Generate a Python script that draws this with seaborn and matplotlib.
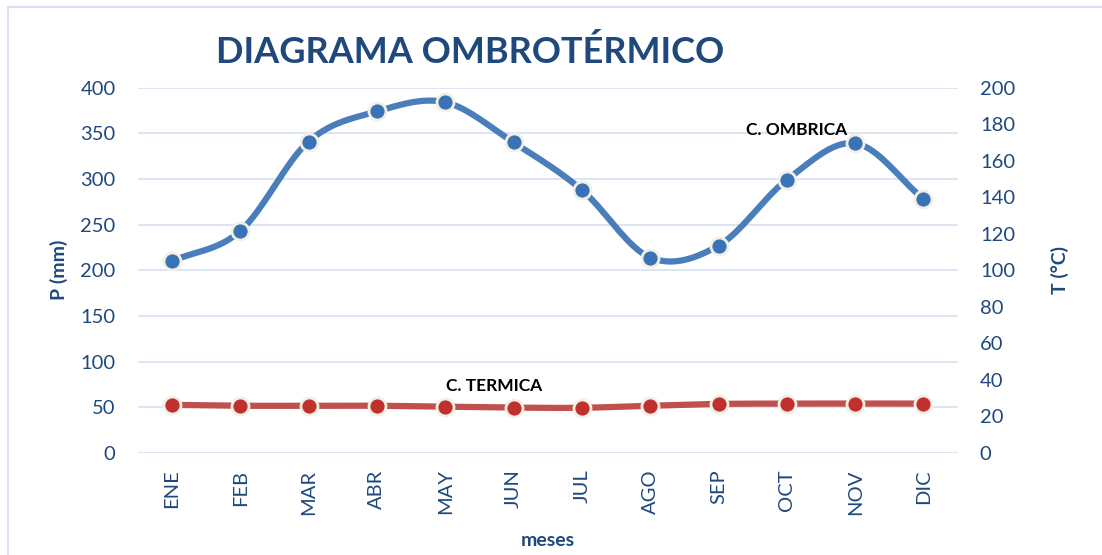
import numpy as np
import pandas as pd
import matplotlib
matplotlib.use("Agg")
import matplotlib.pyplot as plt
import matplotlib.patches as mpatches
import seaborn as sns

# datos
meses = ['ENE', 'FEB', 'MAR', 'ABR', 'MAY', 'JUN', 'JUL', 'AGO', 'SEP', 'OCT', 'NOV', 'DIC']
precip = [210, 243, 341, 374, 384, 340, 288, 214, 227, 299, 339, 278]
temp = [26.3, 25.8, 25.8, 25.8, 25.3, 24.8, 24.7, 25.8, 26.8, 27.0, 27.0, 27.0]

df = pd.DataFrame({'mes': meses, 'x': range(len(meses)), 'P': precip, 'T': temp})

azul = '#4A7EBB'
azul_m = '#3A72B8'
rojo = '#C0504D'
rojo_m = '#C0302E'
texto = '#1F497D'
grid_c = '#D9E4F2'


def suavizar(x, y, n=20):
    # curva suave tipo Catmull-Rom entre los puntos (solo para dibujar la linea)
    x = np.asarray(x, float)
    y = np.asarray(y, float)
    px = np.concatenate([[2 * x[0] - x[1]], x, [2 * x[-1] - x[-2]]])
    py = np.concatenate([[2 * y[0] - y[1]], y, [2 * y[-1] - y[-2]]])
    xs, ys = [], []
    t = np.linspace(0, 1, n, endpoint=False)
    for i in range(1, len(px) - 2):
        for p, out in ((px, xs), (py, ys)):
            p0, p1, p2, p3 = p[i - 1], p[i], p[i + 1], p[i + 2]
            out.extend(0.5 * (2 * p1 + (-p0 + p2) * t + (2 * p0 - 5 * p1 + 4 * p2 - p3) * t ** 2
                              + (-p0 + 3 * p1 - 3 * p2 + p3) * t ** 3))
    xs.append(x[-1])
    ys.append(y[-1])
    return np.array(xs), np.array(ys)


sns.set_theme(style='white')
plt.rcParams['font.family'] = ['Lato', 'DejaVu Sans']

fig, ax = plt.subplots(figsize=(11.02, 5.55), dpi=100)
fig.subplots_adjust(left=0.125, right=0.869, top=0.842, bottom=0.184)
ax2 = ax.twinx()

# curva ombrica (eje izquierdo)
sx, sy = suavizar(df['x'], df['P'])
sns.lineplot(x=sx, y=sy, ax=ax, color=azul, linewidth=4.5, sort=False, zorder=3)
sns.scatterplot(data=df, x='x', y='P', ax=ax, color=azul_m, s=150, edgecolor='#F2EFE4',
                linewidth=2, zorder=4)

# curva termica (eje derecho)
sx2, sy2 = suavizar(df['x'], df['T'])
sns.lineplot(x=sx2, y=sy2, ax=ax2, color=rojo, linewidth=4.5, sort=False, zorder=3)
sns.scatterplot(data=df, x='x', y='T', ax=ax2, color=rojo_m, s=150, edgecolor='#F2EFE4',
                linewidth=2, zorder=4)

ax.set_xlim(-0.5, len(meses) - 0.5)
ax.set_ylim(0, 400)
ax2.set_ylim(0, 200)
ax.set_yticks(range(0, 401, 50))
ax2.set_yticks(range(0, 201, 20))
ax.set_xticks(df['x'])
ax.set_xticklabels(meses, rotation=90)

for a in (ax, ax2):
    for s in a.spines.values():
        s.set_visible(False)
    a.tick_params(axis='both', length=0, labelsize=14.5, labelcolor=texto)
ax.tick_params(axis='y', pad=16)
ax2.tick_params(axis='y', pad=16)
ax.tick_params(axis='x', pad=12)

ax.grid(axis='y', color=grid_c, linewidth=1.3)
ax.set_axisbelow(True)

ax.set_ylabel('P (mm)', fontsize=14, fontweight='bold', color=texto, labelpad=9)
ax2.set_ylabel('T (°C)', fontsize=14, fontweight='bold', color=texto, labelpad=26, rotation=90)
ax.set_xlabel('meses', fontsize=14, fontweight='bold', color=texto, labelpad=12)

ax.text(9.15, 354, 'C. OMBRICA', fontsize=12.5, fontweight='bold', color='black',
        ha='center', va='center', zorder=5)
ax.text(4.71, 73, 'C. TERMICA', fontsize=12.5, fontweight='bold', color='black',
        ha='center', va='center', zorder=5)

fig.text(0.427, 0.907, 'DIAGRAMA OMBROTÉRMICO', fontsize=26, fontweight='bold',
         color=texto, ha='center', va='center')

fig.patches.append(mpatches.Rectangle((0.007, -0.01), 1.0, 0.998, transform=fig.transFigure,
                                      fill=False, edgecolor='#D6E2F0', linewidth=1.5))

fig.savefig('out.png', dpi=100)
